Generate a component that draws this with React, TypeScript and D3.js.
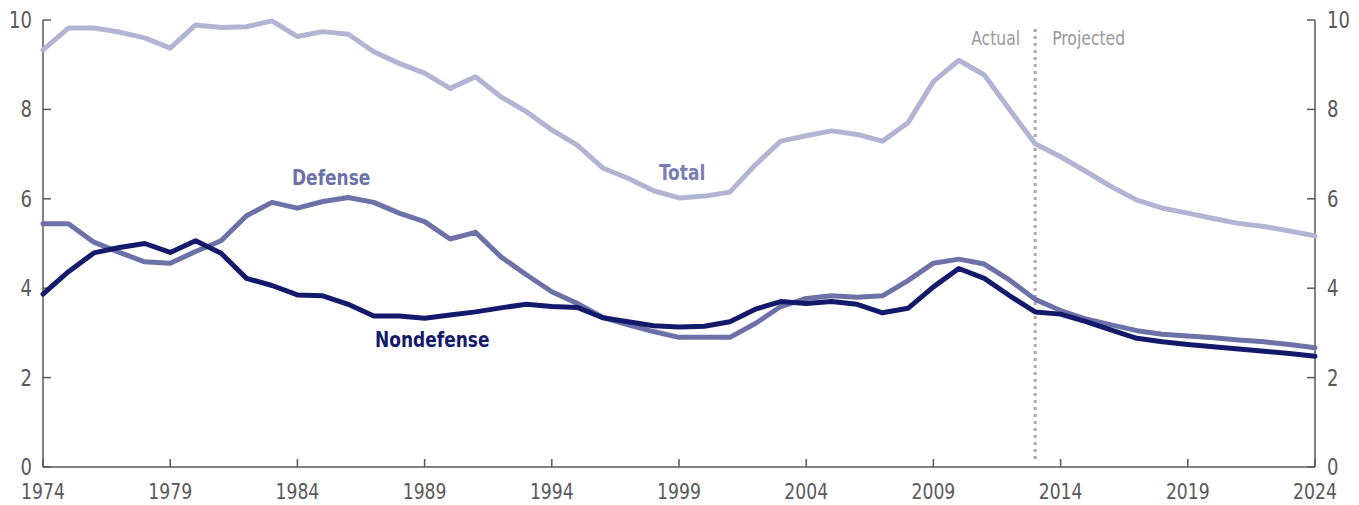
import React from "react";
import * as d3 from "d3";

// years 1974..2024, percent of GDP
const years = d3.range(1974, 2025);

const total = [
  9.33, 9.82, 9.82, 9.73, 9.6, 9.37, 9.89, 9.83, 9.85, 9.98,
  9.63, 9.74, 9.68, 9.29, 9.03, 8.81, 8.47, 8.73, 8.28, 7.95,
  7.54, 7.2, 6.69, 6.46, 6.18, 6.02, 6.06, 6.15, 6.76, 7.29,
  7.41, 7.52, 7.44, 7.29, 7.7, 8.62, 9.1, 8.77, 7.99, 7.23,
  6.94, 6.61, 6.27, 5.97, 5.79, 5.68, 5.56, 5.45, 5.38, 5.28, 5.17,
];

const defense = [
  5.44, 5.44, 5.03, 4.8, 4.59, 4.56, 4.82, 5.06, 5.62, 5.92,
  5.79, 5.94, 6.03, 5.92, 5.68, 5.49, 5.1, 5.25, 4.7, 4.3,
  3.92, 3.66, 3.35, 3.18, 3.03, 2.9, 2.9, 2.9, 3.21, 3.59,
  3.77, 3.83, 3.8, 3.83, 4.17, 4.56, 4.65, 4.54, 4.18, 3.75,
  3.5, 3.31, 3.18, 3.05, 2.97, 2.93, 2.89, 2.84, 2.8, 2.74, 2.67,
];

const nondefense = [
  3.87, 4.37, 4.79, 4.91, 5.0, 4.8, 5.06, 4.78, 4.22, 4.06,
  3.85, 3.83, 3.64, 3.38, 3.38, 3.33, 3.4, 3.47, 3.56, 3.64,
  3.59, 3.57, 3.34, 3.25, 3.16, 3.13, 3.15, 3.25, 3.53, 3.7,
  3.66, 3.7, 3.64, 3.45, 3.55, 4.03, 4.44, 4.22, 3.83, 3.47,
  3.42, 3.25, 3.06, 2.88, 2.8, 2.74, 2.69, 2.64, 2.59, 2.54, 2.48,
];

const xTicks = [1974, 1979, 1984, 1989, 1994, 1999, 2004, 2009, 2014, 2019, 2024];
const yTicks = [0, 2, 4, 6, 8, 10];
const splitYear = 2013;

const W = 1359;
const H = 505;
const font = "'DejaVu Sans Condensed', 'Liberation Sans Narrow', 'Roboto', sans-serif";
const axisColor = "#595959";

// condensed text: squeeze horizontally around the anchor point
function T({ x, y, sx = 0.87, children, ...rest }: { [key: string]: any }) {
  return (
    <text transform={`translate(${x},${y}) scale(${sx},1)`} {...rest}>
      {children}
    </text>
  );
}

export default function App() {
  const x = d3.scaleLinear().domain([1974, 2024]).range([43, 1315]);
  const y = d3.scaleLinear().domain([0, 10]).range([467, 20]);

  const line = (vals: number[]) =>
    d3.line<number>().x((_, i) => x(years[i])).y((d) => y(d))(vals) || "";

  const series = [
    { vals: total, color: "#b1b4d2" },
    { vals: defense, color: "#6c71a8" },
    { vals: nondefense, color: "#131a6b" },
  ];

  const [x0, x1] = x.range();
  const [y0, y1] = y.range();

  return (
    <svg
      width={W}
      height={H}
      style={{ position: "absolute", left: 0, top: 0, background: "#fff" }}
      fontFamily={font}
    >
      {/* actual / projected divider */}
      <line
        x1={x(splitYear)}
        x2={x(splitYear)}
        y1={y(9.8)}
        y2={y(0.15)}
        stroke="#ababab"
        strokeWidth={3}
        strokeDasharray="3,4"
      />
      <T x={x(splitYear) - 15} y={45} textAnchor="end" fontSize={20} fill="#999">
        Actual
      </T>
      <T x={x(splitYear) + 17} y={45} fontSize={20} fill="#999">
        Projected
      </T>

      {/* axes */}
      <line x1={x0} x2={x1} y1={y0} y2={y0} stroke={axisColor} strokeWidth={1.5} />
      <line x1={x0} x2={x0} y1={y0} y2={y1} stroke={axisColor} strokeWidth={1.5} />
      <line x1={x1} x2={x1} y1={y0} y2={y1} stroke={axisColor} strokeWidth={1.5} />
      {xTicks.map((t) => (
        <g key={t}>
          <line x1={x(t)} x2={x(t)} y1={y0} y2={y0 - 8} stroke={axisColor} strokeWidth={1.5} />
          <T x={x(t)} y={499} textAnchor="middle" fontSize={22} fill={axisColor}>
            {t}
          </T>
        </g>
      ))}
      {yTicks.map((t) => (
        <g key={t}>
          <line x1={x0} x2={x0 + 8} y1={y(t)} y2={y(t)} stroke={axisColor} strokeWidth={1.5} />
          <line x1={x1} x2={x1 - 8} y1={y(t)} y2={y(t)} stroke={axisColor} strokeWidth={1.5} />
          <T x={x0 - 11} y={y(t) + 8} textAnchor="end" fontSize={23} fill={axisColor}>
            {t}
          </T>
          <T x={x1 + 12} y={y(t) + 8} fontSize={23} fill={axisColor}>
            {t}
          </T>
        </g>
      ))}

      {series.map((s, i) => (
        <path
          key={i}
          d={line(s.vals)}
          fill="none"
          stroke={s.color}
          strokeWidth={5}
          strokeLinejoin="round"
          strokeLinecap="round"
        />
      ))}

      {/* labels */}
      <T x={292} y={185} sx={0.86} fontSize={22} fontWeight="bold" fill="#6c71a8">
        Defense
      </T>
      <T x={659} y={180} sx={0.86} fontSize={22} fontWeight="bold" fill="#7a7eb4">
        Total
      </T>
      <T x={375} y={347} sx={0.86} fontSize={22} fontWeight="bold" fill="#131a6b">
        Nondefense
      </T>
    </svg>
  );
}
